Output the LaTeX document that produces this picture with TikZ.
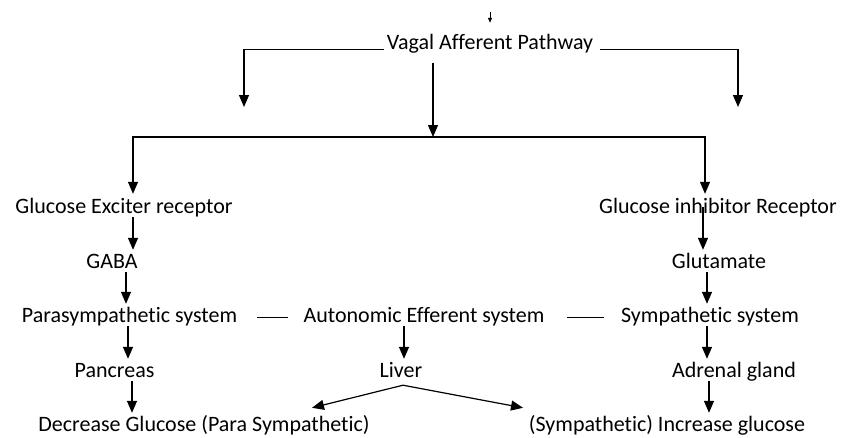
\documentclass[tikz,border=0pt]{standalone}
\usepackage{fontspec}
\setmainfont{Carlito}[Ligatures={NoCommon}]
\usetikzlibrary{positioning, arrows.meta, calc}

\tikzset{
  lbl/.style={inner sep=0pt, anchor=base, text height=14pt, text depth=0pt,
    font=\fontsize{22}{26}\selectfont},
  link/.style={line width=1.2pt},
  tip/.style={-{Triangle[length=12pt,width=10pt]}},
  arr/.style={line width=1.4pt, tip, shorten <=4pt, shorten >=4pt},
  dashline/.style={line width=0.9pt}
}

\begin{document}
\begin{tikzpicture}[x=1pt, y=-1pt]
\useasboundingbox (0,0) rectangle (849,437);

\node[lbl] (vagal) at (490, 49) {Vagal Afferent Pathway};

\node[lbl] (ger) at (124, 213) {Glucose Exciter receptor};
\node[lbl] (gir) at (718, 213) {Glucose inhibitor Receptor};

\node[lbl] (gaba) at (112, 268) {GABA};
\node[lbl] (glut) at (719, 268) {Glutamate};

\node[lbl] (para) at (129.5, 322) {Parasympathetic system};
\node[lbl] (aes) at (424, 322) {Autonomic Efferent system};
\node[lbl] (symp) at (710, 322) {Sympathetic system};

\node[lbl] (pancreas) at (114.5, 377) {Pancreas};
\node[lbl] (liver) at (401, 377) {Liver};
\node[lbl] (adrenal) at (734, 377) {Adrenal gland};

\node[lbl] (dec) at (204, 431) {Decrease Glucose (Para Sympathetic)};
\node[lbl] (inc) at (667, 431) {(Sympathetic) Increase glucose};

\coordinate (src) at (490, 12);
\coordinate (vl) at (244, 107);
\coordinate (vr) at (738, 107);
\coordinate (split) at (433, 137);
\coordinate (fork) at ([xshift=2pt,yshift=-8pt]liver.south);

% afferent branches
\draw[line width=0.8pt, -{Triangle[length=5pt,width=4pt]}, shorten >=12pt] (src) -- (vagal.north);
\draw[link, tip] ([xshift=-3pt]vagal.south west) -| (vl);
\draw[link, tip] ([xshift=7pt]vagal.south east) -| (vr);
\draw[link, tip] ([xshift=-57pt,yshift=-14pt]vagal.south) -- (split);
\draw[link, tip, shorten >=5pt] (split) -| ([xshift=9pt]ger.north);
\draw[link, tip, shorten >=5pt] (split) -| ([xshift=-13pt]gir.north);

% left column
\draw[arr] ([xshift=9pt]ger.south) -- ([xshift=21pt]gaba.north);
\draw[arr] ([xshift=14pt]gaba.south) -- ([xshift=-3.5pt]para.north);
\draw[arr] ([xshift=-1.5pt]para.south) -- ([xshift=13.5pt]pancreas.north);
\draw[arr] ([xshift=17.5pt]pancreas.south) -- ([xshift=-72pt]dec.north);

% middle
\draw[dashline] ([xshift=20pt,yshift=5pt]para.south east) -- ([xshift=-15pt,yshift=5pt]aes.south west);
\draw[dashline] ([xshift=22pt,yshift=5pt]aes.south east) -- ([xshift=-17pt,yshift=5pt]symp.south west);
\draw[arr] ([xshift=-20pt]aes.south) -- ([xshift=3pt]liver.north);
\draw[link, tip] (fork) -- ([xshift=108pt,yshift=9pt]dec.north);
\draw[link, tip] (fork) -- ([xshift=-144pt,yshift=9pt]inc.north);

% right column
\draw[arr, shorten <=-6pt] ([xshift=-15pt]gir.south) -- ([xshift=-16pt]glut.north);
\draw[arr] ([xshift=-12pt]glut.south) -- ([xshift=-3pt]symp.north);
\draw[arr] ([xshift=-3pt]symp.south) -- ([xshift=-27pt]adrenal.north);
\draw[arr] ([xshift=-25pt]adrenal.south) -- ([xshift=42pt]inc.north);

\end{tikzpicture}
\end{document}
